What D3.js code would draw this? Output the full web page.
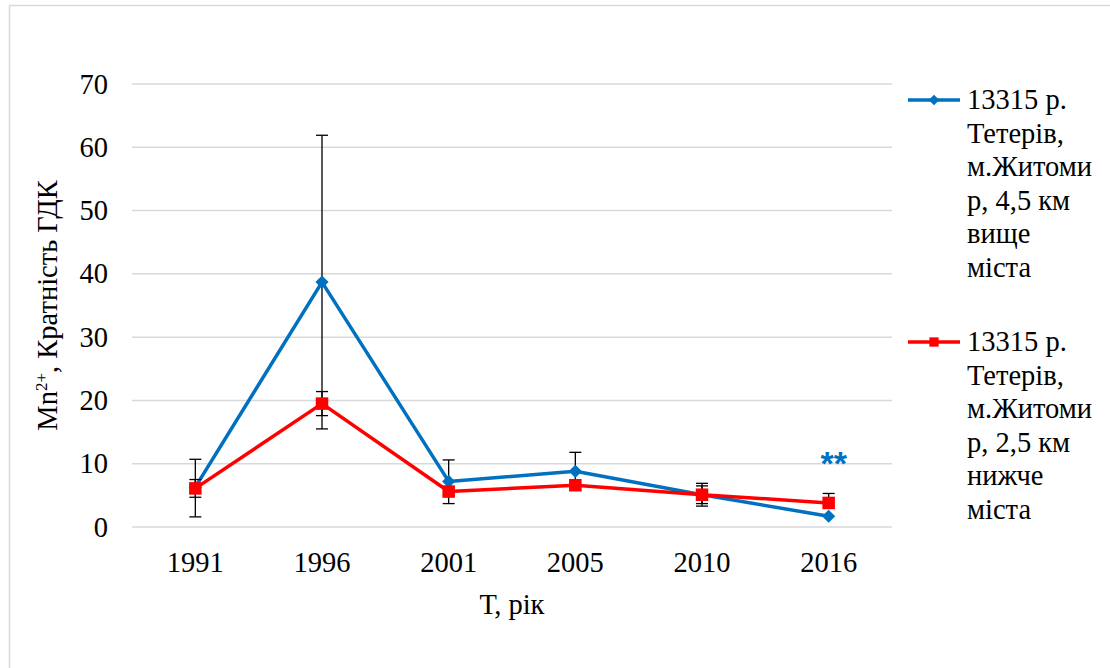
<!DOCTYPE html>
<html>
<head>
<meta charset="utf-8">
<script src="https://cdn.jsdelivr.net/npm/d3@7"></script>
</head>
<body style="margin:0">
<div id="wrapper"></div>
<script>
const years = ["1991", "1996", "2001", "2005", "2010", "2016"]
const yTicks = [0, 10, 20, 30, 40, 50, 60, 70]

// 13315 р. Тетерів, 4,5 км вище міста
const upperValues = [6.3, 38.7, 7.2, 8.8, 5.1, 1.7]
const upperErrPlus = [4.4, 23.2, 3.4, 3.0, 1.8, 0]
const upperErrMinus = [4.7, 23.2, 3.5, 3.0, 1.8, 0]

// 13315 р. Тетерів, 2,5 км нижче міста
const lowerValues = [6.1, 19.5, 5.6, 6.6, 5.1, 3.8]
const lowerErrPlus = [1.4, 1.9, 0, 0, 1.4, 1.5]
const lowerErrMinus = [1.4, 1.9, 0, 0, 1.4, 0]

const legendUpper = ["13315 р.", "Тетерів,", "м.Житоми", "р, 4,5 км", "вище", "міста"]
const legendLower = ["13315 р.", "Тетерів,", "м.Житоми", "р, 2,5 км", "нижче", "міста"]

const serifFont = `"Liberation Serif", "Times New Roman", serif`
const fontSize = 28.5

function drawChart() {
  const dimensions = {
    width: 1110,
    height: 668,
    margin: { top: 84, right: 218, bottom: 141, left: 132 },
  }
  dimensions.boundedWidth = dimensions.width - dimensions.margin.left - dimensions.margin.right
  dimensions.boundedHeight = dimensions.height - dimensions.margin.top - dimensions.margin.bottom

  const wrapper = d3.select("#wrapper")
    .append("svg")
      .attr("width", dimensions.width)
      .attr("height", dimensions.height)

  wrapper.append("rect")
    .attr("x", 9.5)
    .attr("y", 5.5)
    .attr("width", 1120)
    .attr("height", 680)
    .attr("fill", "white")
    .attr("stroke", "#d9d9d9")
    .attr("stroke-width", 1.5)

  const bounds = wrapper.append("g")
    .attr("transform", `translate(${dimensions.margin.left},${dimensions.margin.top})`)

  const xScale = d3.scaleBand()
    .domain(years)
    .range([0, dimensions.boundedWidth])

  const yScale = d3.scaleLinear()
    .domain([0, 70])
    .range([dimensions.boundedHeight, 0])

  const xPos = d => xScale(d) + xScale.bandwidth() / 2

  // gridlines
  bounds.append("g")
    .selectAll("line")
    .data(yTicks)
    .join("line")
      .attr("x1", 0)
      .attr("x2", dimensions.boundedWidth)
      .attr("y1", d => yScale(d))
      .attr("y2", d => yScale(d))
      .attr("stroke", "#d9d9d9")
      .attr("stroke-width", 1.5)

  const yAxis = bounds.append("g")
    .call(d3.axisLeft(yScale).tickValues(yTicks).tickSize(0).tickPadding(24))
  yAxis.select(".domain").remove()
  yAxis.attr("font-family", null).attr("font-size", null)
  yAxis.selectAll("text")
    .style("font-family", serifFont)
    .attr("font-size", fontSize)
    .attr("fill", "#000")

  const xAxis = bounds.append("g")
    .attr("transform", `translate(0,${dimensions.boundedHeight})`)
    .call(d3.axisBottom(xScale).tickSize(0).tickPadding(25))
  xAxis.select(".domain").remove()
  xAxis.attr("font-family", null).attr("font-size", null)
  xAxis.selectAll("text")
    .style("font-family", serifFont)
    .attr("font-size", fontSize)
    .attr("fill", "#000")

  bounds.append("text")
    .attr("x", dimensions.boundedWidth / 2)
    .attr("y", dimensions.boundedHeight + 87)
    .attr("text-anchor", "middle")
    .style("font-family", serifFont)
    .attr("font-size", fontSize)
    .text("Т, рік")

  const yLabel = bounds.append("text")
    .attr("transform", `translate(${-75},${dimensions.boundedHeight / 2}) rotate(-90)`)
    .attr("text-anchor", "middle")
    .style("font-family", serifFont)
    .attr("font-size", fontSize)
  yLabel.append("tspan").text("Mn")
  yLabel.append("tspan").attr("font-size", 17).attr("dy", -10).text("2+")
  yLabel.append("tspan").attr("dy", 10).text(",  Кратність ГДК")

  const series = [
    { values: upperValues, plus: upperErrPlus, minus: upperErrMinus, color: "#0070c0", marker: d3.symbolDiamond2, size: 110 },
    { values: lowerValues, plus: lowerErrPlus, minus: lowerErrMinus, color: "#ff0000", marker: d3.symbolSquare2, size: 200 },
  ]

  const lineGenerator = d3.line()
    .x((d, i) => xPos(years[i]))
    .y(d => yScale(d))

  series.forEach(s => {
    bounds.append("path")
      .datum(s.values)
      .attr("d", lineGenerator)
      .attr("fill", "none")
      .attr("stroke", s.color)
      .attr("stroke-width", 3.5)
      .attr("stroke-linejoin", "round")

    const errs = years.map((yr, i) => ({ x: xPos(yr), v: s.values[i], p: s.plus[i], m: s.minus[i] }))
    const errG = bounds.append("g").attr("stroke", "#000").attr("stroke-width", 1.3)
    errs.filter(d => d.p > 0).forEach(d => {
      errG.append("line").attr("x1", d.x).attr("x2", d.x).attr("y1", yScale(d.v)).attr("y2", yScale(d.v + d.p))
      errG.append("line").attr("x1", d.x - 6).attr("x2", d.x + 6).attr("y1", yScale(d.v + d.p)).attr("y2", yScale(d.v + d.p))
    })
    errs.filter(d => d.m > 0).forEach(d => {
      errG.append("line").attr("x1", d.x).attr("x2", d.x).attr("y1", yScale(d.v)).attr("y2", yScale(d.v - d.m))
      errG.append("line").attr("x1", d.x - 6).attr("x2", d.x + 6).attr("y1", yScale(d.v - d.m)).attr("y2", yScale(d.v - d.m))
    })

    bounds.append("g")
      .selectAll("path")
      .data(s.values)
      .join("path")
        .attr("transform", (d, i) => `translate(${xPos(years[i])},${yScale(d)})`)
        .attr("d", d3.symbol(s.marker, s.size))
        .attr("fill", s.color)
  })

  // significance mark
  bounds.append("text")
    .attr("x", xPos("2016") + 5)
    .attr("y", yScale(10) + 11)
    .attr("text-anchor", "middle")
    .style("font-family", `"Liberation Sans", Arial, sans-serif`)
    .attr("font-weight", "bold")
    .attr("font-size", 34)
    .attr("fill", "#0070c0")
    .text("**")

  // legend
  const legendData = [
    { lines: legendUpper, color: "#0070c0", marker: d3.symbolDiamond2, size: 70, y: 100 },
    { lines: legendLower, color: "#ff0000", marker: d3.symbolSquare2, size: 110, y: 342 },
  ]
  legendData.forEach(l => {
    const g = wrapper.append("g").attr("transform", `translate(908,${l.y})`)
    g.append("line").attr("x1", 0).attr("x2", 52).attr("stroke", l.color).attr("stroke-width", 3.5)
    g.append("path").attr("transform", "translate(26,0)").attr("d", d3.symbol(l.marker, l.size)).attr("fill", l.color)
    g.selectAll("text")
      .data(l.lines)
      .join("text")
        .attr("x", 59)
        .attr("y", (d, i) => 9 + i * 33.5)
        .style("font-family", serifFont)
        .attr("font-size", fontSize)
        .attr("fill", "#000")
        .text(d => d)
  })
}

drawChart()
</script>
</body>
</html>
